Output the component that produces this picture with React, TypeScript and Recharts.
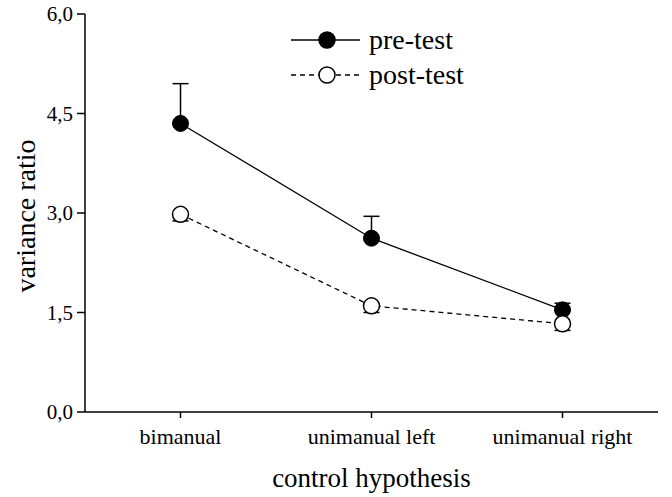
import { LineChart, Line, XAxis, YAxis, ErrorBar, Legend } from "recharts";

const categories = ["bimanual", "unimanual left", "unimanual right"];
const preTest = [4.35, 2.62, 1.54];
const preTestErr = [0.6, 0.33, 0.1];
const postTest = [2.98, 1.6, 1.33];
const postTestErr = [0.1, 0.1, 0.1];
const yTicks = [0, 1.5, 3, 4.5, 6];

const FONT = "'Liberation Serif', 'Times New Roman', serif";

// pre-test bars only go up, post-test bars only go down
const data = categories.map((c, i) => ({
  name: c,
  pre: preTest[i],
  preErr: [0, preTestErr[i]],
  post: postTest[i],
  postErr: [postTestErr[i], 0],
}));

const legendItems = [
  { label: "pre-test", dash: undefined, fill: "#000" },
  { label: "post-test", dash: "5 4", fill: "#fff" },
];

function LegendBox() {
  return (
    <div style={{ fontFamily: FONT, fontSize: 28, color: "#000", lineHeight: 1 }}>
      {legendItems.map((it) => (
        <div key={it.label} style={{ display: "flex", alignItems: "center", height: 35 }}>
          <svg width={72} height={20}>
            <line x1={1} x2={70} y1={10} y2={10} stroke="#000" strokeWidth={1.3} strokeDasharray={it.dash} />
            <circle cx={37} cy={10} r={8} fill={it.fill} stroke="#000" strokeWidth={1.5} />
          </svg>
          <span style={{ marginLeft: 7 }}>{it.label}</span>
        </div>
      ))}
    </div>
  );
}

export default function App() {
  return (
    <div style={{ position: "absolute", left: 0, top: 0, background: "#fff" }}>
      <LineChart width={672} height={497} data={data} margin={{ top: 14, right: 14, bottom: 0, left: 0 }}>
        <XAxis
          dataKey="name"
          scale="band"
          height={85}
          stroke="#000"
          strokeWidth={1.5}
          tickSize={6}
          tickMargin={10}
          tick={{ fill: "#000", fontSize: 22, fontFamily: FONT }}
          label={{ value: "control hypothesis", position: "insideBottom", offset: 10, style: { fill: "#000", fontSize: 27, fontFamily: FONT } }}
        />
        <YAxis
          width={85}
          domain={[0, 6]}
          ticks={yTicks}
          stroke="#000"
          strokeWidth={1.5}
          tickSize={8}
          tickMargin={4}
          tickFormatter={(v: number) => v.toFixed(1).replace(".", ",")}
          tick={{ fill: "#000", fontSize: 21, fontFamily: FONT }}
          label={{ value: "variance ratio", angle: -90, position: "center", dx: -17, dy: 3, style: { fill: "#000", fontSize: 28, fontFamily: FONT, textAnchor: "middle" } }}
        />
        <Legend
          layout="horizontal"
          verticalAlign="middle"
          align="center"
          content={() => <LegendBox />}
          wrapperStyle={{ left: 290, top: 22, width: "auto" }}
        />
        <Line
          dataKey="pre"
          stroke="#000"
          strokeWidth={1.3}
          dot={{ r: 8, fill: "#000", stroke: "#000", strokeWidth: 1 }}
          isAnimationActive={false}
        >
          <ErrorBar dataKey="preErr" width={8} stroke="#000" strokeWidth={1.5} isAnimationActive={false} />
        </Line>
        <Line
          dataKey="post"
          stroke="#000"
          strokeWidth={1.3}
          strokeDasharray="5 4"
          dot={{ r: 8, fill: "#fff", stroke: "#000", strokeWidth: 1.5, strokeDasharray: "0" }}
          isAnimationActive={false}
        >
          <ErrorBar dataKey="postErr" width={8} stroke="#000" strokeWidth={1.5} isAnimationActive={false} />
        </Line>
      </LineChart>
    </div>
  );
}
